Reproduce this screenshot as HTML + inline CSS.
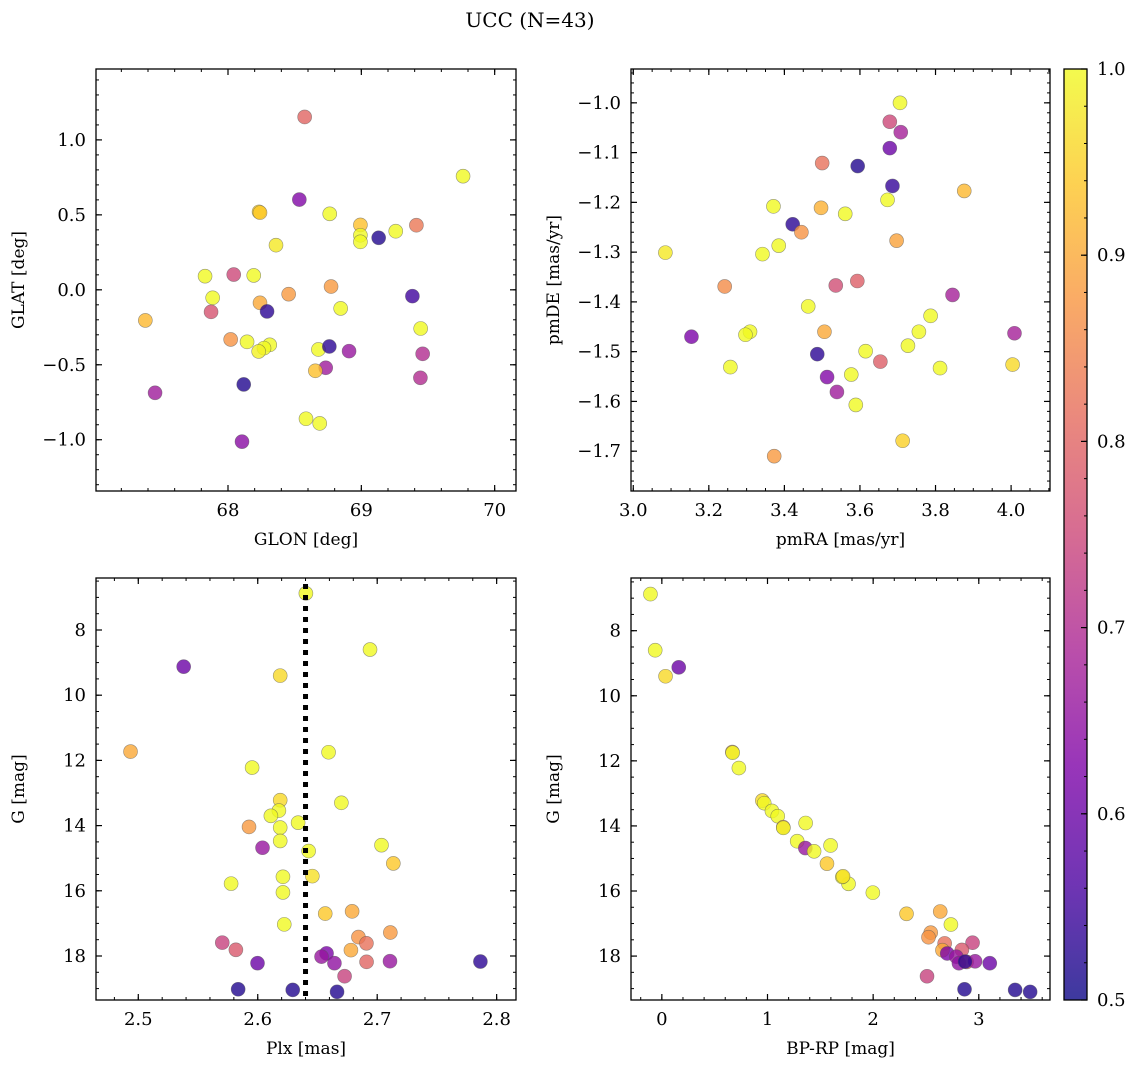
<!DOCTYPE html>
<html><head><meta charset="utf-8"><style>
html,body{margin:0;padding:0;background:#fff;}
svg{display:block;font-family:"DejaVu Serif","Liberation Serif",serif;}
</style></head><body>
<svg id="fig" width="1136" height="1068" viewBox="0 0 1136 1068" xmlns="http://www.w3.org/2000/svg">
<defs>
<linearGradient id="plasmaGrad" x1="0" y1="1" x2="0" y2="0">
<stop offset="0" stop-color="#0d0887"/><stop offset="0.125" stop-color="#4c02a1"/><stop offset="0.25" stop-color="#7e03a8"/><stop offset="0.375" stop-color="#a92395"/><stop offset="0.5" stop-color="#cc4778"/><stop offset="0.625" stop-color="#e56b5d"/><stop offset="0.75" stop-color="#f89540"/><stop offset="0.875" stop-color="#fdc527"/><stop offset="1" stop-color="#f0f921"/>
</linearGradient>
</defs>
<text x="530" y="27" font-size="20" text-anchor="middle">UCC (N=43)</text>
</svg>
<script>
// ---- Panel 1: GLON vs GLAT ----
const glon = [68.575,69.763,68.535,68.233,68.24,68.763,68.993,69.413,68.993,69.258,69.13,68.993,68.36,67.828,68.043,68.193,68.773,68.455,67.885,68.24,69.383,68.845,67.873,68.293,67.38,69.445,68.02,68.143,68.313,68.27,68.23,68.678,68.76,68.908,69.46,68.733,68.655,69.443,68.118,67.453,68.585,68.688,68.105];
const glat = [1.153,0.758,0.602,0.52,0.515,0.507,0.433,0.431,0.364,0.391,0.347,0.32,0.298,0.091,0.102,0.096,0.022,-0.029,-0.053,-0.087,-0.042,-0.124,-0.147,-0.144,-0.204,-0.258,-0.331,-0.347,-0.367,-0.389,-0.411,-0.398,-0.378,-0.409,-0.427,-0.52,-0.54,-0.587,-0.631,-0.687,-0.86,-0.891,-1.013];
const probPos = [0.8,1.0,0.63,0.95,0.94,1.0,0.93,0.83,1.0,1.0,0.52,1.0,0.98,1.0,0.75,1.0,0.88,0.88,1.0,0.9,0.55,1.0,0.77,0.53,0.92,1.0,0.87,1.0,1.0,1.0,0.99,1.0,0.53,0.66,0.7,0.67,0.93,0.7,0.52,0.67,1.0,1.0,0.64];
// ---- Panel 2: pmRA vs pmDE ----
const pmra = [3.706,3.679,3.708,3.679,3.5,3.594,3.686,3.876,3.673,3.371,3.497,3.561,3.422,3.445,3.697,3.085,3.342,3.385,3.242,3.536,3.593,3.845,3.463,3.787,3.154,3.309,3.297,3.506,3.756,4.009,3.727,3.487,3.615,3.654,3.257,3.812,4.004,3.513,3.577,3.539,3.589,3.713,3.373];
const pmde = [-1.0,-1.038,-1.059,-1.091,-1.121,-1.127,-1.167,-1.177,-1.195,-1.208,-1.211,-1.223,-1.244,-1.26,-1.277,-1.301,-1.304,-1.287,-1.369,-1.367,-1.358,-1.386,-1.409,-1.428,-1.47,-1.46,-1.466,-1.46,-1.46,-1.463,-1.488,-1.505,-1.499,-1.52,-1.531,-1.533,-1.526,-1.551,-1.546,-1.581,-1.607,-1.679,-1.71];
const probPm = [1.0,0.75,0.68,0.6,0.82,0.52,0.54,0.92,1.0,1.0,0.91,1.0,0.53,0.87,0.89,0.98,1.0,1.0,0.86,0.76,0.79,0.68,1.0,1.0,0.62,1.0,1.0,0.9,1.0,0.68,1.0,0.53,1.0,0.79,1.0,1.0,0.96,0.63,1.0,0.67,1.0,0.95,0.88];
// ---- Panels 3 & 4: photometry ----
const plx  = [2.6403,2.694,2.538,2.6188,2.4935,2.6593,2.5953,2.6188,2.670,2.6177,2.611,2.6338,2.5927,2.6188,2.6188,2.604,2.6426,2.7036,2.7135,2.5777,2.6211,2.6457,2.6211,2.6565,2.679,2.6222,2.711,2.6843,2.691,2.5703,2.5817,2.678,2.6576,2.6534,2.5998,2.6642,2.6911,2.7107,2.7864,2.6727,2.5836,2.6293,2.6664];
const gmag = [6.875,8.60,9.125,9.40,11.73,11.75,12.22,13.22,13.30,13.54,13.70,13.91,14.04,14.06,14.47,14.68,14.78,14.60,15.16,15.78,15.57,15.55,16.05,16.70,16.63,17.03,17.28,17.42,17.61,17.59,17.81,17.82,17.92,18.02,18.22,18.22,18.18,18.16,18.17,18.62,19.02,19.04,19.10];
const bprp = [-0.108,-0.063,0.160,0.035,0.667,0.67,0.729,0.951,0.969,1.042,1.097,1.361,1.149,1.15,1.281,1.358,1.441,1.597,1.563,1.767,1.708,1.715,1.997,2.316,2.635,2.736,2.545,2.524,2.677,2.941,2.840,2.656,2.701,2.788,3.104,2.812,2.885,2.965,2.87,2.51,2.865,3.344,3.486];
const probPh = [1.0,1.0,0.6,0.96,0.9,1.0,1.0,0.96,1.0,1.0,1.0,1.0,0.88,1.0,1.0,0.66,1.0,1.0,0.94,1.0,1.0,0.97,1.0,0.94,0.9,1.0,0.88,0.87,0.82,0.74,0.78,0.9,0.62,0.66,0.6,0.65,0.8,0.66,0.53,0.74,0.52,0.52,0.52];
const plxMean = [2.640];
// ---- colorbar ----
const cbTicks = [0.5,0.6,0.7,0.8,0.9,1.0];

const NS = "http://www.w3.org/2000/svg";
const svg = document.getElementById('fig');
const stops = [[0,13,8,135],[0.125,76,2,161],[0.25,126,3,168],[0.375,169,35,149],[0.5,204,71,120],[0.625,229,107,93],[0.75,248,149,64],[0.875,253,197,39],[1,240,249,33]];
function plasma(v){
  let t=(v-0.5)/0.5; t=Math.max(0,Math.min(1,t));
  for(let i=0;i<stops.length-1;i++){
    const a=stops[i],b=stops[i+1];
    if(t<=b[0]){const f=(t-a[0])/(b[0]-a[0]);
      return 'rgb('+[1,2,3].map(k=>Math.round(a[k]+(b[k]-a[k])*f)).join(',')+')';}
  }
  return 'rgb(240,249,33)';
}
function mk(tag,attrs,parent){const e=document.createElementNS(NS,tag);for(const k in attrs)e.setAttribute(k,attrs[k]);(parent||svg).appendChild(e);return e;}
function fmt(v,d){const s=v.toFixed(d);return s.replace('-','\u2212');}

function panel(o){
  const g=mk('g',{});
  
  
  const sx=v=>o.x0+(v-o.xmin)/(o.xmax-o.xmin)*(o.x1-o.x0);
  const sy=o.yinv ? (v=>o.y0+(v-o.ymin)/(o.ymax-o.ymin)*(o.y1-o.y0)) : (v=>o.y1-(v-o.ymin)/(o.ymax-o.ymin)*(o.y1-o.y0));
  for(let i=0;i<o.xs.length;i++){
    const c=mk('circle',{cx:sx(o.xs[i]),cy:sy(o.ys[i]),r:7,fill:plasma(o.cs[i]),'fill-opacity':0.8,stroke:'#555','stroke-opacity':0.6,'stroke-width':0.6},g);
    
    
  }
  if(o.vline){o.vline.forEach(v=>{const l=mk('line',{x1:sx(v),x2:sx(v),y1:o.y0+6,y2:o.y1,stroke:'#000','stroke-width':5,'stroke-dasharray':'5,6'},g);
    
    });}
  const eps=1e-9;
  function ticksX(step){const out=[];for(let v=Math.ceil(o.xmin/step-eps)*step;v<=o.xmax+eps;v+=step){out.push(v);}return out;}
  function ticksY(step){const out=[];for(let v=Math.ceil(o.ymin/step-eps)*step;v<=o.ymax+eps;v+=step){out.push(v);}return out;}
  ticksX(o.xminor).forEach(v=>{const x=sx(v);mk('line',{x1:x,x2:x,y1:o.y1,y2:o.y1-3,stroke:'#000','stroke-width':1},g);mk('line',{x1:x,x2:x,y1:o.y0,y2:o.y0+3,stroke:'#000','stroke-width':1},g);});
  ticksY(o.yminor).forEach(v=>{const y=sy(v);mk('line',{x1:o.x0,x2:o.x0+3,y1:y,y2:y,stroke:'#000','stroke-width':1},g);mk('line',{x1:o.x1,x2:o.x1-3,y1:y,y2:y,stroke:'#000','stroke-width':1},g);});
  ticksX(o.xmajor).forEach(v=>{const x=sx(v);mk('line',{x1:x,x2:x,y1:o.y1,y2:o.y1-6,stroke:'#000','stroke-width':1.2},g);mk('line',{x1:x,x2:x,y1:o.y0,y2:o.y0+6,stroke:'#000','stroke-width':1.2},g);
    const t=mk('text',{x:x,y:o.y1+25,'font-size':18,'text-anchor':'middle'},g);t.textContent=fmt(v,o.xdec);
    
    });
  ticksY(o.ymajor).forEach(v=>{const y=sy(v);mk('line',{x1:o.x0,x2:o.x0+6,y1:y,y2:y,stroke:'#000','stroke-width':1.2},g);mk('line',{x1:o.x1,x2:o.x1-6,y1:y,y2:y,stroke:'#000','stroke-width':1.2},g);
    const t=mk('text',{x:o.x0-10,y:y+6,'font-size':18,'text-anchor':'end'},g);t.textContent=fmt(v,o.ydec);
    
    });
  mk('rect',{x:o.x0,y:o.y0,width:o.x1-o.x0,height:o.y1-o.y0,fill:'none',stroke:'#000','stroke-width':1.3},g);
  const xl=mk('text',{x:(o.x0+o.x1)/2,y:o.y1+54,'font-size':17,'text-anchor':'middle'},g);xl.textContent=o.xlabel;
  
  
  const yl=mk('text',{x:0,y:0,'font-size':17,'text-anchor':'middle',transform:'translate('+(o.x0-72)+','+((o.y0+o.y1)/2)+') rotate(-90)'},g);yl.textContent=o.ylabel;
  
  
}
panel({name:'glon-glat-panel',x0:96,x1:516,y0:69,y1:491,xmin:67.01,xmax:70.16,ymin:-1.342,ymax:1.473,xs:glon,ys:glat,cs:probPos,xmajor:1,xminor:0.2,ymajor:0.5,yminor:0.1,xdec:0,ydec:1,xlabel:'GLON [deg]',ylabel:'GLAT [deg]'});
panel({name:'pm-panel',x0:631,x1:1050,y0:69,y1:491,xmin:2.994,xmax:4.103,ymin:-1.78,ymax:-0.932,xs:pmra,ys:pmde,cs:probPm,xmajor:0.2,xminor:0.05,ymajor:0.1,yminor:0.02,xdec:1,ydec:1,xlabel:'pmRA [mas/yr]',ylabel:'pmDE [mas/yr]'});
panel({name:'plx-g-panel',x0:96,x1:516,y0:578,y1:1000,xmin:2.4646,xmax:2.8162,ymin:6.405,ymax:19.35,yinv:true,xs:plx,ys:gmag,cs:probPh,xmajor:0.1,xminor:0.02,ymajor:2,yminor:0.5,xdec:1,ydec:0,xlabel:'Plx [mas]',ylabel:'G [mag]',vline:plxMean});
panel({name:'cmd-panel',x0:631,x1:1050,y0:578,y1:1000,xmin:-0.292,xmax:3.674,ymin:6.38,ymax:19.35,yinv:true,xs:bprp,ys:gmag,cs:probPh,xmajor:1,xminor:0.2,ymajor:2,yminor:0.5,xdec:0,ydec:0,xlabel:'BP-RP [mag]',ylabel:'G [mag]'});

const cb=mk('g',{});


const cbx0=1064,cbx1=1087,cby0=69,cby1=1000;
const cy=v=>cby1-(v-0.5)/0.5*(cby1-cby0);
mk('rect',{x:cbx0,y:cby0,width:cbx1-cbx0,height:cby1-cby0,fill:'url(#plasmaGrad)','fill-opacity':0.8},cb);
for(let v=0.5;v<=1.0001;v+=0.02){const y=cy(v);mk('line',{x1:cbx1,x2:cbx1-3,y1:y,y2:y,stroke:'#000','stroke-width':1},cb);}
cbTicks.forEach(v=>{const y=cy(v);mk('line',{x1:cbx1,x2:cbx1-6,y1:y,y2:y,stroke:'#000','stroke-width':1.2},cb);
  const t=mk('text',{x:cbx1+10,y:y+6,'font-size':18},cb);t.textContent=v.toFixed(1);
  
  });
mk('rect',{x:cbx0,y:cby0,width:cbx1-cbx0,height:cby1-cby0,fill:'none',stroke:'#000','stroke-width':1.3},cb);
</script>
</body></html>
